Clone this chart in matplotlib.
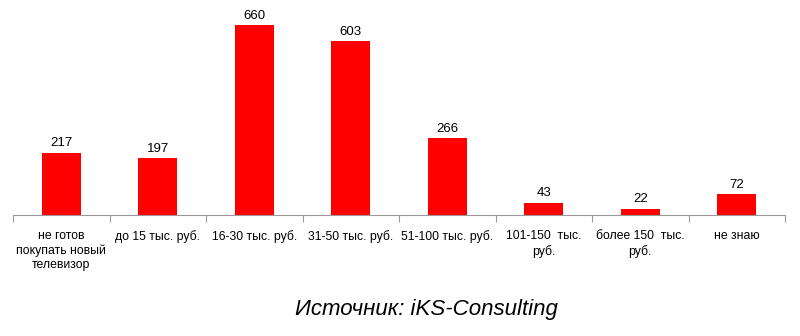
import matplotlib.pyplot as plt
import numpy as np

# Данные
categories = ['не готов\nпокупать новый\nтелевизор', 'до 15 тыс. руб.', '16-30 тыс. руб.',
              '31-50 тыс. руб.', '51-100 тыс. руб.', '101-150  тыс.\nруб.',
              'более 150  тыс.\nруб.', 'не знаю']
values = [217, 197, 660, 603, 266, 43, 22, 72]

plt.rcParams['font.family'] = ['Liberation Sans', 'DejaVu Sans']

fig = plt.figure(figsize=(8, 3.36), dpi=100)
ax = fig.add_axes([13 / 800, 121 / 336, 772 / 800, 215 / 336])

x = np.arange(len(values))
ax.bar(x, values, width=0.4, color='#ff0000')
for xi, v in zip(x, values):
    ax.text(xi, v + 12, str(v), ha='center', va='bottom', fontsize=9.5)

ax.set_xlim(-0.5, len(values) - 0.5)
ax.set_ylim(0, 747)
ax.set_yticks([])
for s in ['top', 'right', 'left']:
    ax.spines[s].set_visible(False)
ax.spines['bottom'].set_color('#999999')

# деления между категориями
ax.set_xticks(np.arange(len(values) + 1) - 0.5)
ax.set_xticklabels([])
ax.tick_params(axis='x', length=5, color='#999999')
ax.set_xticks(x, minor=True)
ax.set_xticklabels(categories, minor=True, fontsize=8.8, linespacing=1.25, va='top')
ax.tick_params(axis='x', which='minor', length=0, pad=11)

fig.text(0.533, 1 - 310 / 336, 'Источник: iKS-Consulting', ha='center', va='center',
         fontsize=16, style='italic')

fig.savefig('out.png', dpi=100)
